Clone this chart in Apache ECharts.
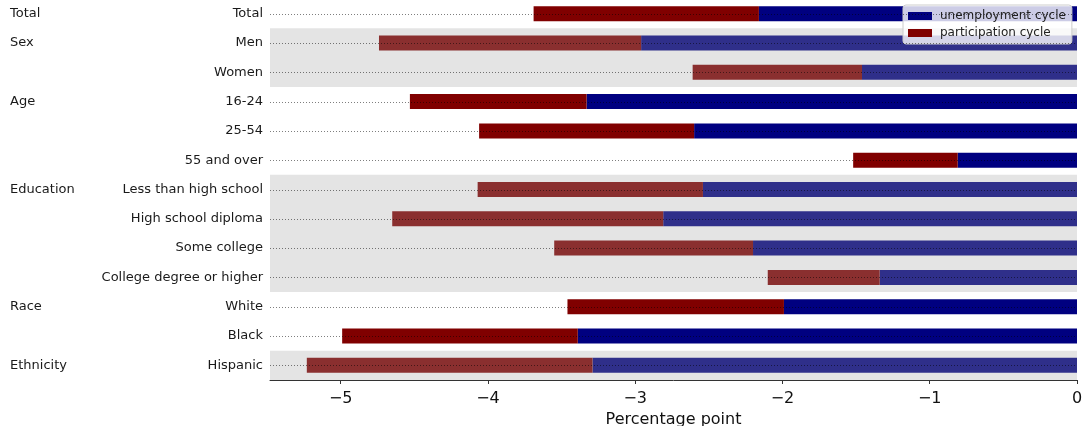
<!DOCTYPE html>
<html>
<head>
<meta charset="utf-8">
<script src="https://cdn.jsdelivr.net/npm/echarts@6/dist/echarts.min.js"></script>
<style>
html,body{margin:0;padding:0;background:#fff;}
#chart{width:1082px;height:426px;}
</style>
</head>
<body>
<div id="chart"></div>
<script>
const categories = ['Total','Men','Women','16-24','25-54','55 and over','Less than high school','High school diploma','Some college','College degree or higher','White','Black','Hispanic'];
const groupLabels = ['Total','Sex','','Age','','','Education','','','','Race','','Ethnicity'];
const unemploymentCycle = [-2.16,-2.96,-1.46,-3.33,-2.60,-0.81,-2.54,-2.81,-2.20,-1.34,-1.99,-3.39,-3.29];
const participationCycle = [-1.53,-1.78,-1.15,-1.20,-1.46,-0.71,-1.53,-1.84,-1.35,-0.76,-1.47,-1.60,-1.94];
const shadedGroups = [['Men','Women'],['Less than high school','College degree or higher'],['Hispanic','Hispanic']];
const xTicks = [-5,-4,-3,-2,-1,0];
const xMin = -5.48, xMax = 0;

const FONT = 'DejaVu Sans';
const chart = echarts.init(document.getElementById('chart'), null, {renderer:'canvas'});

const bandData = shadedGroups.map(g => [categories.indexOf(g[0]), categories.indexOf(g[1])]);
const guideData = categories.map((c,i) => [i]);

chart.setOption({
  animation: false,
  textStyle: {fontFamily: FONT},
  grid: {left: 270, right: 5, top: -1, bottom: 46, containLabel: false, outerBoundsMode: 'none'},
  legend: {
    data: ['unemployment cycle','participation cycle'],
    orient: 'vertical', left: 903, top: 5,
    itemWidth: 24, itemHeight: 8, itemGap: 5,
    padding: [5, 6, 5, 5],
    backgroundColor: 'rgba(255,255,255,0.8)',
    borderColor: '#cccccc', borderWidth: 1, borderRadius: 3,
    icon: 'rect',
    textStyle: {fontFamily: FONT, fontSize: 12, color: '#222', padding: [0,0,0,3]}
  },
  xAxis: {
    type: 'value', min: xMin, max: xMax,
    name: 'Percentage point', nameLocation: 'middle', nameGap: 28,
    nameTextStyle: {fontFamily: FONT, fontSize: 16, color: '#111'},
    axisLine: {show: true, lineStyle: {color: '#333', width: 1}},
    axisTick: {show: true, length: 4, customValues: xTicks, lineStyle: {color: '#333'}},
    axisLabel: {customValues: xTicks, fontFamily: FONT, fontSize: 16, color: '#111', margin: 11,
      formatter: v => String(v).replace('-', '\u2212')},
    splitLine: {show: false}
  },
  yAxis: [{
    type: 'category', data: categories, inverse: true,
    axisLine: {show: false},
    axisTick: {show: true, length: 4, alignWithLabel: true, lineStyle: {color: '#333'}},
    axisLabel: {fontFamily: FONT, fontSize: 13, color: '#1a1a1a', margin: 7},
    splitLine: {show: false}
  }, {
    type: 'category', data: categories, inverse: true, position: 'left', offset: 260,
    axisLine: {show: false}, axisTick: {show: false},
    axisLabel: {fontFamily: FONT, fontSize: 13, color: '#1a1a1a', margin: 0, align: 'left',
      formatter: (v, i) => groupLabels[i]},
    splitLine: {show: false}
  }],
  series: [
    {
      name: 'unemployment cycle', type: 'bar', stack: 'total', data: unemploymentCycle,
      barWidth: 15, itemStyle: {color: '#000080'}, z: 2
    },
    {
      name: 'participation cycle', type: 'bar', stack: 'total', data: participationCycle,
      barWidth: 15, itemStyle: {color: '#800000'}, z: 2
    },
    {
      name: 'bands', type: 'custom', data: bandData, z: 3, silent: true,
      renderItem: function(params, api) {
        const s = api.value(0), e = api.value(1);
        const p0 = api.coord([xMin, s]);
        const p1 = api.coord([xMax, e]);
        const h = api.size([0, 1])[1];
        const cs = params.coordSys;
        return {
          type: 'rect',
          shape: {x: cs.x, y: p0[1] - h/2, width: cs.width, height: (p1[1] - p0[1]) + h},
          style: {fill: 'rgba(161,161,161,0.29)'}
        };
      },
      encode: {x: -1, y: [0,1]}
    },
    {
      name: 'guides', type: 'custom', data: guideData, z: 4, silent: true,
      renderItem: function(params, api) {
        const i = api.value(0);
        const a = api.coord([xMin, i]);
        const b = api.coord([xMax, i]);
        return {
          type: 'line',
          shape: {x1: a[0], y1: Math.round(a[1]) + 0.5, x2: b[0], y2: Math.round(b[1]) + 0.5},
          style: {stroke: 'rgba(0,0,0,0.5)', lineWidth: 1, lineDash: [1, 2]}
        };
      },
      encode: {y: 0}
    }
  ]
});
</script>
</body>
</html>
